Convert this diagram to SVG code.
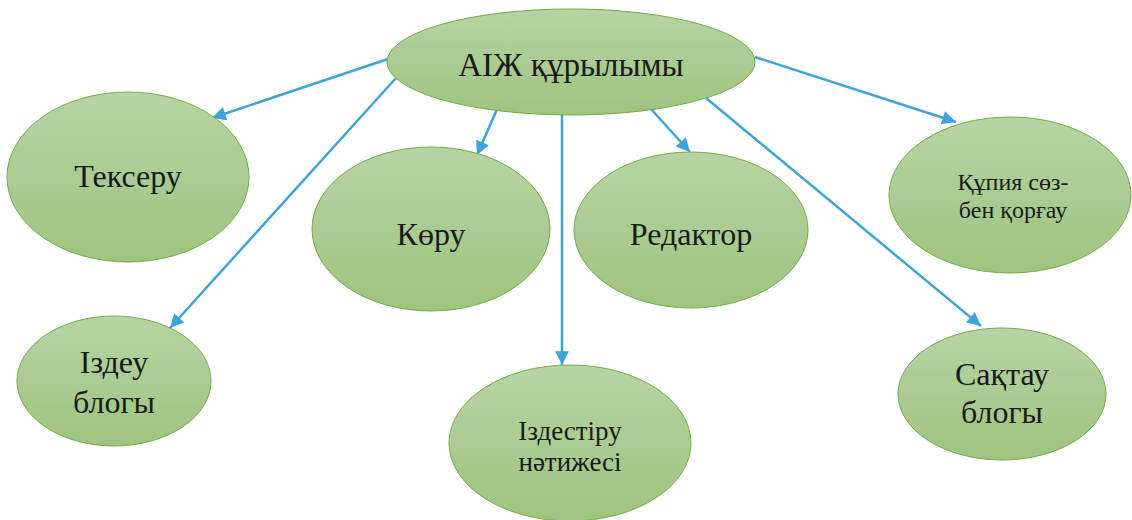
<svg xmlns="http://www.w3.org/2000/svg" width="1132" height="520" viewBox="0 0 1132 520">
<defs>
<linearGradient id="g" x1="0" y1="0" x2="0" y2="1">
<stop offset="0" stop-color="#b7d3a4"/>
<stop offset="1" stop-color="#9ec47f"/>
</linearGradient>
<marker id="ah" viewBox="0 0 10 10" refX="10" refY="5" markerWidth="6.5" markerHeight="5.5" markerUnits="strokeWidth" orient="auto">
<path d="M0,0 L10,5 L0,10 z" fill="#3ea3d9"/>
</marker>
<style>
.n{fill:url(#g);stroke:#70ad47;stroke-width:1}
.t{fill:#1a1a1a;text-anchor:middle;font-family:"Times New Roman","Liberation Serif","DejaVu Serif",serif}
.c{stroke:#3ea3d9;stroke-width:2.5;fill:none;marker-end:url(#ah)}
</style>
</defs>
<rect width="1132" height="520" fill="#ffffff"/>
<g id="connectors">
<line class="c" x1="397" y1="56" x2="212" y2="118"/>
<line class="c" x1="396" y1="78" x2="170" y2="328"/>
<line class="c" x1="498" y1="107" x2="477" y2="155"/>
<line class="c" x1="562" y1="115" x2="562" y2="365"/>
<line class="c" x1="651" y1="109" x2="690" y2="152"/>
<line class="c" x1="706" y1="98" x2="981" y2="326"/>
<line class="c" x1="755" y1="57" x2="956" y2="122"/>
</g>
<g id="root">
<ellipse class="n" cx="571" cy="62" rx="184" ry="53"/>
<text class="t" x="571" y="76" font-size="33">АІЖ құрылымы</text>
</g>
<g id="tekseru">
<ellipse class="n" cx="128" cy="177" rx="121" ry="85"/>
<text class="t" x="128" y="187" font-size="32">Тексеру</text>
</g>
<g id="koru">
<ellipse class="n" cx="431" cy="229" rx="119" ry="82"/>
<text class="t" x="431" y="245" font-size="32">Көру</text>
</g>
<g id="redaktor">
<ellipse class="n" cx="691" cy="230" rx="117" ry="78"/>
<text class="t" x="691" y="245" font-size="32">Редактор</text>
</g>
<g id="qupia">
<ellipse class="n" cx="1010" cy="195" rx="121" ry="78"/>
<text class="t" x="1013" y="190" font-size="24">Құпия сөз-</text>
<text class="t" x="1013" y="218" font-size="24">бен қорғау</text>
</g>
<g id="izdeu">
<ellipse class="n" cx="114" cy="381" rx="97" ry="65"/>
<text class="t" x="114" y="373" font-size="32">Іздеу</text>
<text class="t" x="114" y="413" font-size="32">блогы</text>
</g>
<g id="izdestiru">
<ellipse class="n" cx="570" cy="443" rx="121" ry="78"/>
<text class="t" x="570" y="440" font-size="27">Іздестіру</text>
<text class="t" x="570" y="471" font-size="27">нәтижесі</text>
</g>
<g id="saqtau">
<ellipse class="n" cx="1002" cy="394" rx="104" ry="66"/>
<text class="t" x="1002" y="385" font-size="32">Сақтау</text>
<text class="t" x="1002" y="423" font-size="32">блогы</text>
</g>
</svg>
